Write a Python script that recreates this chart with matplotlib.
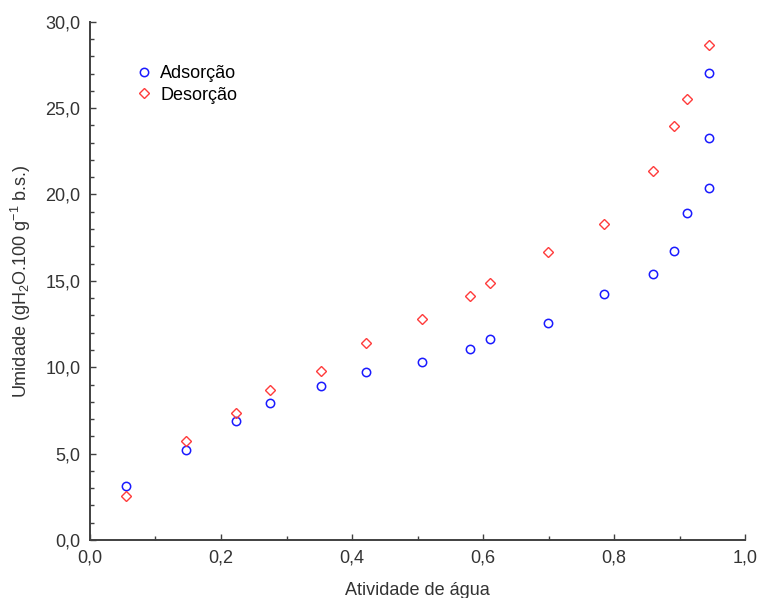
import numpy as np
from matplotlib import pyplot as plt
from matplotlib.ticker import MultipleLocator, FuncFormatter

plt.rcParams['font.family'] = ['Liberation Sans', 'DejaVu Sans']

# water activity values
aw_ads = [0.055, 0.147, 0.223, 0.275, 0.353, 0.421, 0.507, 0.580, 0.611,
          0.699, 0.785, 0.860, 0.892, 0.912, 0.945, 0.945, 0.945]
umid_ads = [3.13, 5.23, 6.87, 7.95, 8.90, 9.73, 10.33, 11.06, 11.66,
            12.57, 14.22, 15.40, 16.73, 18.91, 20.36, 23.26, 27.03]

aw_des = [0.055, 0.147, 0.223, 0.275, 0.353, 0.421, 0.507, 0.580, 0.611,
          0.699, 0.785, 0.860, 0.892, 0.912, 0.945]
umid_des = [2.55, 5.72, 7.36, 8.69, 9.80, 11.39, 12.78, 14.15, 14.88,
            16.66, 18.30, 21.35, 23.98, 25.52, 28.67]

fig = plt.figure(figsize=(7.58, 5.98), dpi=100)
ax = fig.add_axes([0.1187, 0.097, 0.8643, 0.8667])

ax.plot(aw_ads, umid_ads, 'o', ms=6, mfc='none', mec='#1a1aff', mew=1.1,
        label='Adsorção')
ax.plot(aw_des, umid_des, 'D', ms=5, mfc='none', mec='#ff3b3b', mew=1.0,
        label='Desorção')

ax.set_xlim(0, 1)
ax.set_ylim(0, 30)

ax.xaxis.set_major_locator(MultipleLocator(0.2))
ax.xaxis.set_minor_locator(MultipleLocator(0.1))
ax.yaxis.set_major_locator(MultipleLocator(5))
ax.yaxis.set_minor_locator(MultipleLocator(1))

virgula = FuncFormatter(lambda v, p: f'{v:.1f}'.replace('.', ','))
ax.xaxis.set_major_formatter(virgula)
ax.yaxis.set_major_formatter(virgula)

for s in ['top', 'right']:
    ax.spines[s].set_visible(False)
for s in ['left', 'bottom']:
    ax.spines[s].set_color('#404040')
    ax.spines[s].set_linewidth(1.4)

ax.tick_params(which='major', direction='in', length=4, width=1,
               color='#404040', labelsize=13, labelcolor='#333333', pad=7)
ax.tick_params(which='minor', direction='in', length=3, width=1,
               color='#404040')

ax.set_xlabel('Atividade de água', fontsize=13, color='#333333', labelpad=11)
ax.set_ylabel(r'Umidade (gH$_\mathregular{2}$O.100 g$^\mathregular{-1}$ b.s.)',
              fontsize=13, color='#333333', labelpad=9)

ax.legend(loc='upper left', bbox_to_anchor=(0.055, 0.93), frameon=False,
          fontsize=13, handletextpad=0.3, labelspacing=0.25,
          handlelength=1.2, borderaxespad=0)

plt.savefig('out.png', dpi=100)
